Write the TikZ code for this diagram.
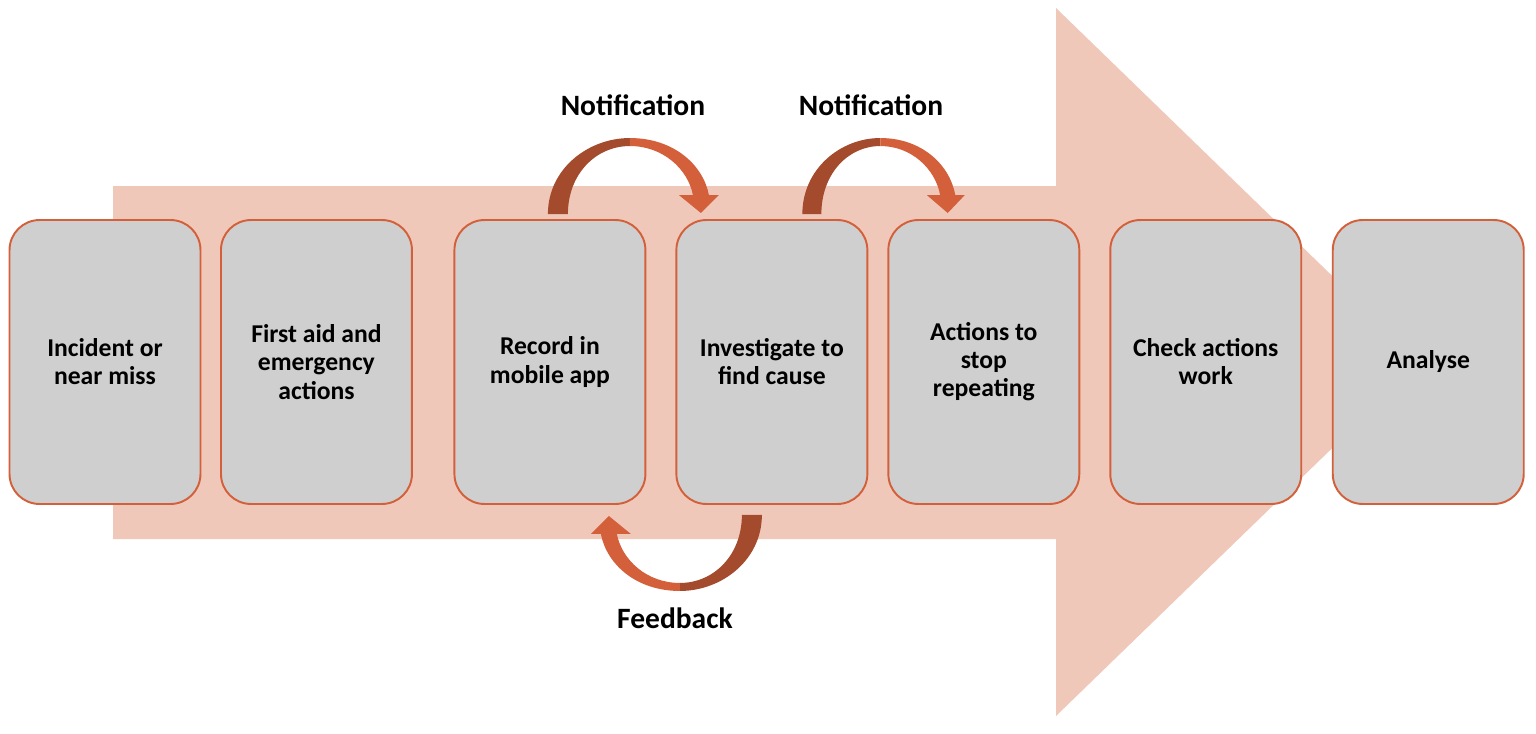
\documentclass[tikz,border=0pt]{standalone}
\usepackage{fontspec}
\setmainfont{Carlito}
\usetikzlibrary{positioning}

\definecolor{band}{RGB}{240,200,185}
\definecolor{boxgray}{RGB}{207,207,207}
\definecolor{edge}{RGB}{211,96,58}
\definecolor{edgedark}{RGB}{165,75,45}

\tikzset{
	stage/.style={draw=edge, fill=boxgray, line width=1.1pt, rounded corners=0.6cm,
		minimum width=3.82cm, minimum height=5.68cm, inner sep=0pt, outer sep=0pt,
		align=center, font=\bfseries\fontsize{14.6}{16}\selectfont},
	lbl/.style={anchor=base, font=\bfseries\fontsize{16.8}{19}\selectfont}
}

% curved arrow, foot at the origin, head 143 units to the right
\newcommand{\bentarrow}{%
	\fill[edgedark] (-10,0) .. controls (-10,-45) and (30,-76) .. (72,-76)
		-- (72,-68) .. controls (38,-68) and (10,-40) .. (10,0) -- cycle;
	\fill[edge] (72,-76) .. controls (115,-76) and (145,-50) .. (151,-19)
		-- (161,-19) -- (143,-1) -- (121,-19) -- (135,-19)
		.. controls (130,-45) and (105,-68) .. (72,-68) -- cycle;
}

\begin{document}
\begin{tikzpicture}[x=0.02cm, y=-0.02cm]
	\useasboundingbox (0,0) rectangle (1536,734);
	% big arrow behind the stages
	\fill[band] (113,186) -- (1056,186) -- (1056,8) -- (1421,362) -- (1056,716)
		-- (1056,539) -- (113,539) -- cycle;

	\node[stage] (inc) at (105,362) {Incident or\\near miss};
	\node[stage, right=0.41cm of inc] (aid) {First aid and\\emergency\\actions};
	\node[stage, right=0.85cm of aid] (rec) {Record in\\mobile app};
	\node[stage, right=0.62cm of rec] (inv) {Investigate to\\find cause};
	\node[stage, right=0.42cm of inv] (act) {Actions to\\stop\\repeating};
	\node[stage, right=0.62cm of act] (chk) {Check actions\\work};
	\node[stage, right=0.63cm of chk] (ana) {Analyse};

	\coordinate (foot1) at ([shift={(8,-6)}]rec.north);
	\coordinate (foot2) at ([shift={(40,-6)}]inv.north);
	\coordinate (foot3) at ([shift={(-20,11)}]inv.south);

	\begin{scope}[shift={(foot1)}]
		\bentarrow
	\end{scope}
	\begin{scope}[shift={(foot2)}, xscale=0.95]
		\bentarrow
	\end{scope}
	\begin{scope}[shift={(foot3)}, rotate=180]
		\bentarrow
	\end{scope}

	\node[lbl] (note1) at (633,115) {Notification};
	\node[lbl] (note2) at (871,115) {Notification};
	\node[lbl] (back) at (675,628) {Feedback};
\end{tikzpicture}
\end{document}
